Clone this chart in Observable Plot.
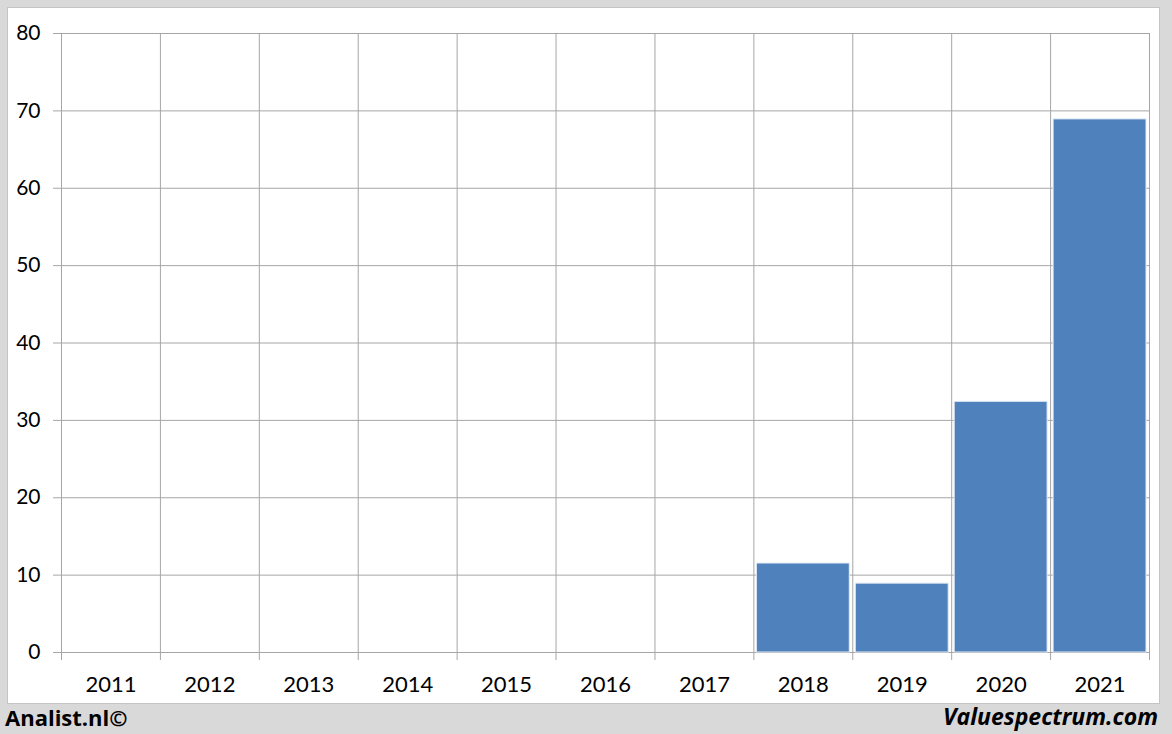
<!DOCTYPE html>
<html>
<head>
<meta charset="utf-8">
<script src="https://cdn.jsdelivr.net/npm/d3@7"></script>
<script src="https://cdn.jsdelivr.net/npm/@observablehq/plot@0.6"></script>
<style>
  html, body { margin: 0; padding: 0; }
  body { width: 1172px; height: 734px; background: #d9d9d9; position: relative; overflow: hidden; font-family: Lato, "Open Sans", sans-serif; }
  #panel { position: absolute; left: 7px; top: 7px; width: 1151px; height: 695px; background: #fff; border: 1px solid #c4c4c4; }
  #chart { position: absolute; left: 0; top: 0; }
  .foot { position: absolute; top: 702px; font-weight: bold; color: #000; font-family: "Open Sans", Lato, sans-serif; }
  #left { left: 5px; font-size: 22px; }
  #right { right: 14px; font-style: italic; font-size: 23px; top: 700px; }
  .xl text { font-size: 22px; }
</style>
</head>
<body>
<div id="panel"></div>
<div id="chart"></div>
<div class="foot" id="left">Analist.nl©</div>
<div class="foot" id="right">Valuespectrum.com</div>
<script>
const years = [2011, 2012, 2013, 2014, 2015, 2016, 2017, 2018, 2019, 2020, 2021];
const values = [0, 0, 0, 0, 0, 0, 0, 11.5, 8.9, 32.4, 68.9];
const yTicks = [0, 10, 20, 30, 40, 50, 60, 70, 80];

const data = years.map((year, i) => ({year, value: values[i]}));
const bounds = years.map(y => y - 0.5).concat([years[years.length - 1] + 0.5]);
const grid = "#a6a6a6";

const plot = Plot.plot({
  width: 1172,
  height: 703,
  marginLeft: 61,
  marginRight: 23,
  marginTop: 33,
  marginBottom: 51,
  style: {background: "transparent", fontFamily: "Lato, 'Open Sans', sans-serif", fontSize: "21px", color: "#000"},
  x: {type: "linear", domain: [years[0] - 0.5, years[years.length - 1] + 0.5]},
  y: {domain: [0, 80]},
  marks: [
    Plot.gridY(yTicks, {stroke: grid, strokeOpacity: 1}),
    Plot.gridX(bounds, {stroke: grid, strokeOpacity: 1}),
    Plot.axisY({ticks: yTicks, tickSize: 8, tickPadding: 13, stroke: grid, fill: "#000", label: null, tickFormat: d => String(d)}),
    Plot.axisX({ticks: bounds, tickSize: 8, stroke: grid, tickFormat: () => "", label: null}),
    Plot.axisX({ticks: years, tickSize: 0, tickPadding: 24, fill: "#000", tickFormat: d => String(d), label: null, className: "xl"}),
    Plot.rectY(data.filter(d => d.value > 0), {x1: d => d.year - 0.5, x2: d => d.year + 0.5, y: "value", fill: "#4f81bd", stroke: "#e4ecf5", strokeWidth: 1, insetLeft: 3, insetRight: 3})
  ]
});
document.getElementById("chart").appendChild(plot);
</script>
</body>
</html>
